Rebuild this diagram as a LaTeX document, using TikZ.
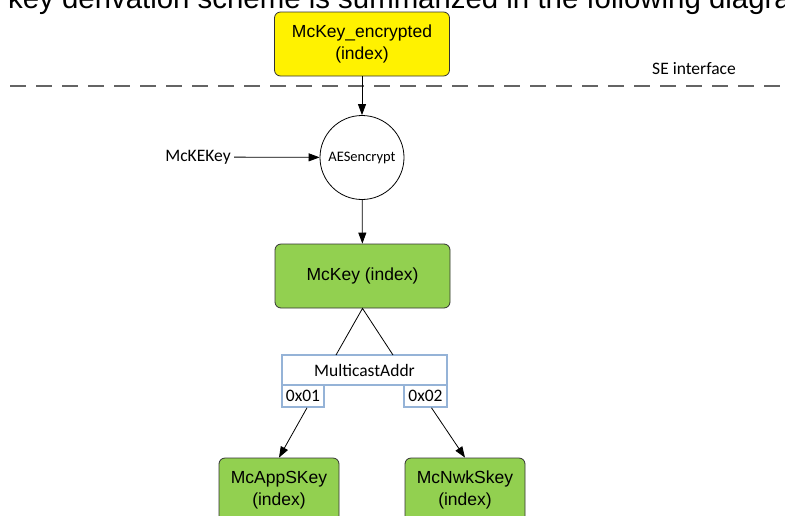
\documentclass[tikz,border=0pt]{standalone}
\usepackage{fontspec}
\usepackage{tikz}
\usetikzlibrary{arrows.meta}
\newfontfamily\arialfont{Liberation Sans}
\newfontfamily\califont{Carlito}
\definecolor{keygreen}{RGB}{146,208,80}
\definecolor{addrblue}{RGB}{149,179,215}
\definecolor{sedash}{RGB}{100,100,100}

\begin{document}
\begin{tikzpicture}[x=1pt,y=-1pt,
  keybox/.style={draw=black!80,line width=0.8pt,rounded corners=6pt,fill=keygreen,align=center,inner sep=0pt,font=\arialfont\fontsize{17.5}{22}\selectfont},
  addrbox/.style={draw=addrblue,line width=1.6pt,fill=white,inner sep=0pt,font=\califont\fontsize{17.5}{20}\selectfont},
  arr/.style={-{Triangle[length=11pt,width=8pt]},line width=0.8pt}]
\useasboundingbox (0,0) rectangle (785,515);
\clip (0,0) rectangle (785,515);
\node[anchor=base west,inner sep=0pt,font=\arialfont\fontsize{29.4}{34}\selectfont] (title) at (8,8.5) {key derivation scheme is summarized in the following diagram};
% SE boundary
\node[font=\califont\fontsize{17.5}{20}\selectfont] (se) at (694,69) {SE interface};
\draw[sedash,line width=1.6pt,dash pattern=on 16pt off 10pt] (10,86) -- (785,86);
% keys
\node[keybox,fill=yellow,minimum width=175,minimum height=64] (enc) at (362,44) {McKey\_encrypted\\(index)};
\node[draw,circle,line width=0.8pt,minimum size=84,inner sep=0pt,font=\califont\fontsize{14.5}{16}\selectfont] (aes) at (362,157.5) {AESencrypt};
\node[font=\califont\fontsize{17.5}{20}\selectfont] (kek) at (198,157) {McKEKey};
\node[keybox,minimum width=175,minimum height=64] (mckey) at (362.5,276) {McKey (index)};
\draw[arr] (enc) -- (aes);
\draw[arr] (kek) -- (aes);
\draw[arr] (aes) -- (mckey);
% derivation
\node[addrbox,minimum width=165,minimum height=30] (mc) at (364.5,370) {MulticastAddr};
\node[addrbox,minimum width=42,minimum height=22] (b1) at (303,396) {0x01};
\node[addrbox,minimum width=43,minimum height=22] (b2) at (425.5,396) {0x02};
\coordinate (tl) at (336,355);
\coordinate (tr) at (393,355);
\draw[line width=0.8pt] (tl) -- (mckey.south) -- (tr);
\node[keybox,minimum width=120,minimum height=64] (app) at (279,490) {McAppSKey\\(index)};
\node[keybox,minimum width=120,minimum height=64] (nwk) at (465,490) {McNwkSkey\\(index)};
\draw[arr] ([xshift=4pt]b1.south) -- (app.north);
\draw[arr] ([xshift=6pt]b2.south) -- (nwk.north);
\end{tikzpicture}
\end{document}
